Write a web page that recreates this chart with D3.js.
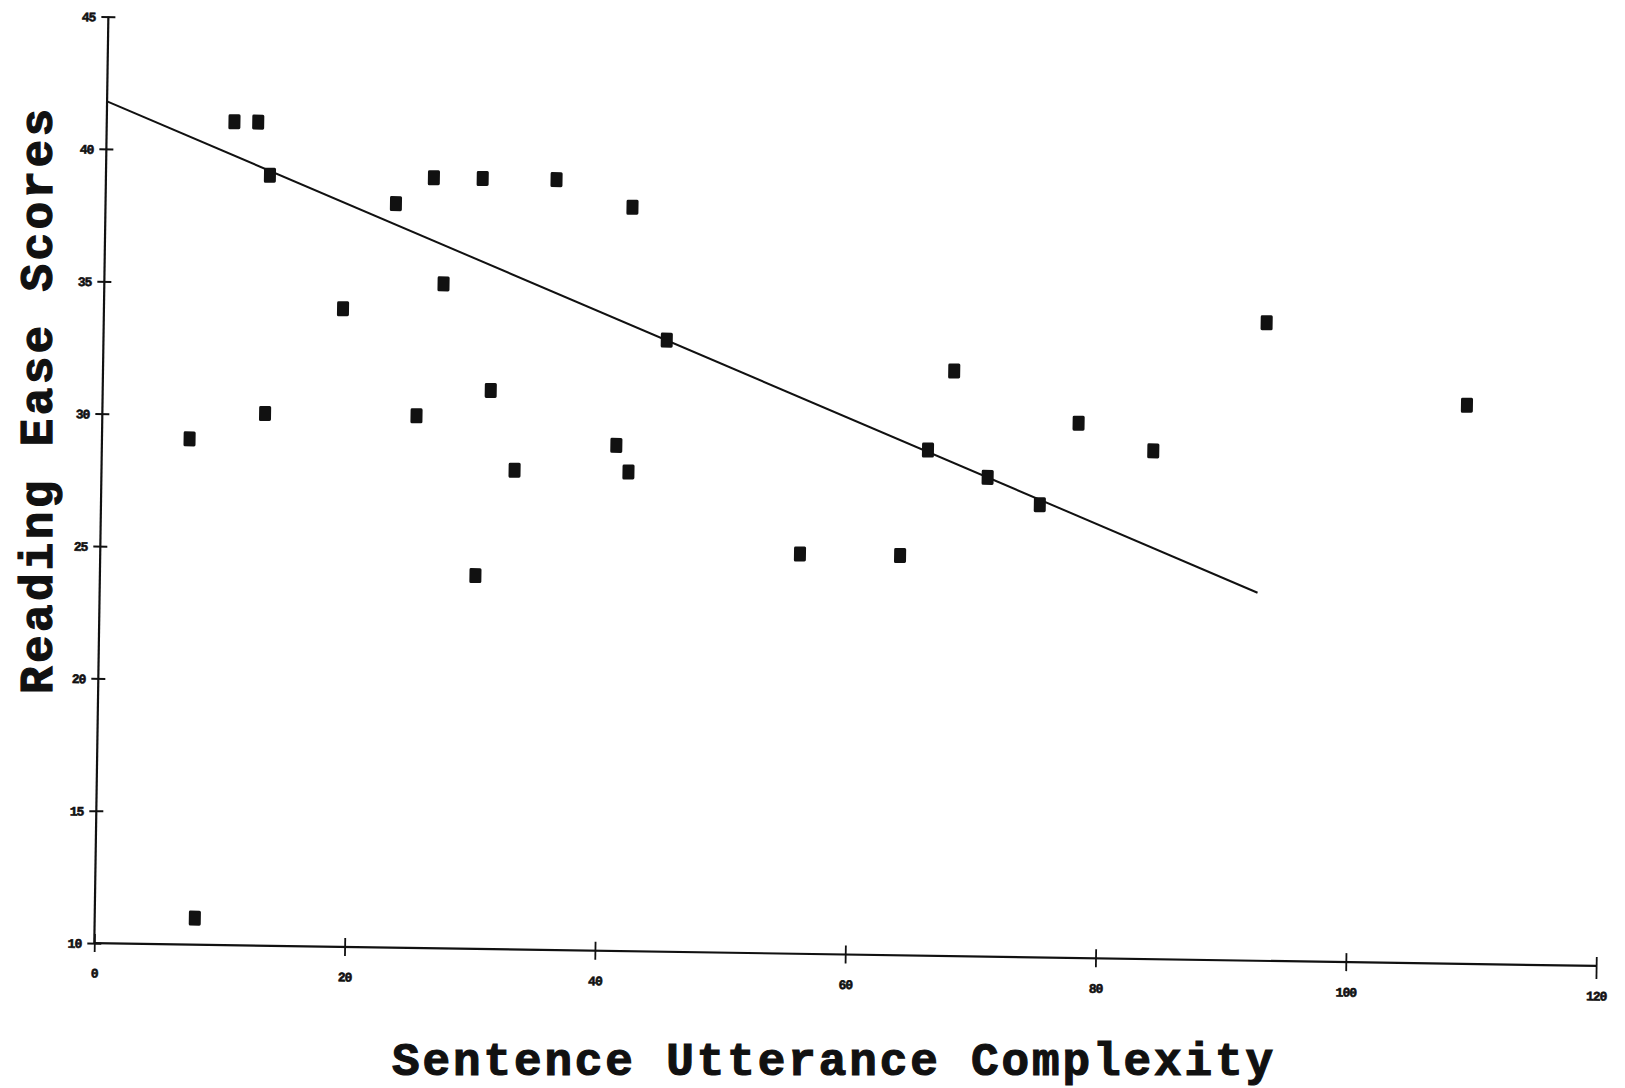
<!DOCTYPE html>
<html>
<head>
<meta charset="utf-8">
<script src="https://cdn.jsdelivr.net/npm/d3@7"></script>
<style>
  html, body { margin: 0; padding: 0; background: #fff; }
  svg { display: block; }
</style>
</head>
<body>
<svg id="chart" width="1625" height="1088"></svg>
<script>
// ---- data ----
const complexity  = [7.0, 8.0, 10.2, 12.1, 13.1, 13.0, 19.1, 23.2, 25.1, 26.2, 27.1, 30.0, 30.1, 31.0, 33.0,
                     36.0, 41.1, 42.1, 42.1, 45.0, 55.9, 63.9, 66.0, 68.0, 70.8, 75.0, 78.0, 84.0, 92.9, 109.0];
const readingEase = [29.1, 11.0, 41.1, 41.1, 39.1, 30.1, 34.1, 38.1, 30.1, 39.1, 35.1, 24.1, 39.1, 31.1, 28.1,
                     39.1, 29.1, 28.1, 38.1, 33.1, 25.1, 25.1, 29.1, 32.1, 28.1, 27.1, 30.2, 29.2, 34.1, 31.1];
const fitX = [0, 92.5];
const fitY = [41.8, 23.9];
const xTicks = [0, 20, 40, 60, 80, 100, 120];
const yTicks = [10, 15, 20, 25, 30, 35, 40, 45];
const xTitle = "Sentence Utterance Complexity";
const yTitle = "Reading Ease Scores";

// ---- layout ----
const svg = d3.select("#chart");
const ink = "#111";
const x = d3.scaleLinear().domain([0, 120]).range([0, 1502]);
const y = d3.scaleLinear().domain([10, 45]).range([0, -926.6]);

const g = svg.append("g").attr("transform", "translate(94.3,943.1) rotate(0.87)");

// x axis
const xAxis = d3.axisBottom(x).tickValues(xTicks).tickSize(0).tickPadding(0).tickFormat(d3.format("d"));
const gx = g.append("g").call(xAxis);
gx.select(".domain").attr("stroke", ink).attr("stroke-width", 2.2).attr("d", `M${x(0)},0H${x(120)}`);
gx.selectAll(".tick line").attr("stroke", ink).attr("stroke-width", 1.8)
  .attr("y1", -9).attr("y2", (d) => d === 120 ? 13 : 9);
gx.selectAll(".tick text")
  .attr("y", 30).attr("dy", "0.35em")
  .attr("fill", ink)
  .style("font-family", "'Liberation Mono', monospace")
  .style("font-weight", "bold").style("font-size", "13px").style("letter-spacing", "-1px")
  .attr("stroke", ink).attr("stroke-width", 0.6);

// y axis
const yAxis = d3.axisLeft(y).tickValues(yTicks).tickSize(0).tickPadding(0).tickFormat(d3.format("d"));
const gy = g.append("g").call(yAxis);
gy.select(".domain").attr("stroke", ink).attr("stroke-width", 2.2).attr("d", `M0,${y(10)}V${y(45)}`);
gy.selectAll(".tick line").attr("stroke", ink).attr("stroke-width", 2)
  .attr("x1", -7).attr("x2", 7);
gy.selectAll(".tick text")
  .attr("x", -13).attr("dy", "0.35em")
  .attr("fill", ink)
  .style("font-family", "'Liberation Mono', monospace")
  .style("font-weight", "bold").style("font-size", "13px").style("letter-spacing", "-1px")
  .attr("stroke", ink).attr("stroke-width", 0.6);
gy.selectAll(".domain, .tick line");
svg.selectAll(".tick text").attr("font-family", null);

// regression line
const line = d3.line().x((d) => x(d[0])).y((d) => y(d[1]));
g.append("path")
  .datum(d3.zip(fitX, fitY))
  .attr("d", line)
  .attr("fill", "none").attr("stroke", ink).attr("stroke-width", 2);

// points
g.append("g").selectAll("rect")
  .data(d3.zip(complexity, readingEase))
  .join("rect")
  .attr("x", (d) => x(d[0]) - 6)
  .attr("y", (d) => y(d[1]) - 7.5)
  .attr("width", 12).attr("height", 15)
  .attr("rx", 1.5)
  .attr("fill", ink);

// axis titles
svg.append("text")
  .attr("x", 392).attr("y", 1075)
  .attr("textLength", 881).attr("lengthAdjust", "spacing")
  .style("font-family", "'Liberation Mono', 'Courier New', monospace")
  .style("font-weight", "bold").style("font-size", "46px")
  .attr("fill", ink).attr("stroke", ink).attr("stroke-width", 1.2)
  .text(xTitle);

svg.append("text")
  .attr("transform", "translate(52,694) rotate(-90)")
  .attr("x", 0).attr("y", 0)
  .attr("textLength", 585).attr("lengthAdjust", "spacing")
  .style("font-family", "'Liberation Mono', 'Courier New', monospace")
  .style("font-weight", "bold").style("font-size", "46px")
  .attr("fill", ink).attr("stroke", ink).attr("stroke-width", 1.2)
  .text(yTitle);
</script>
</body>
</html>
